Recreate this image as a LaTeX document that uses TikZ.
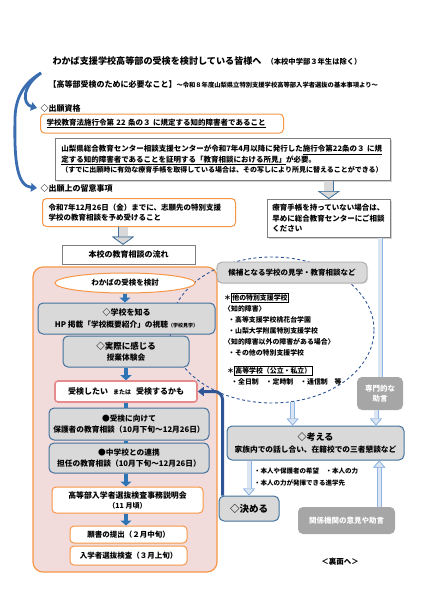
\documentclass[tikz,border=0pt]{standalone}
\usepackage{fontspec}
\setmainfont{Noto Sans CJK JP}
\usetikzlibrary{shapes.geometric,arrows.meta,shadows}

\definecolor{orangeline}{HTML}{F79646}
\definecolor{pinkpanel}{HTML}{F2DCDB}
\definecolor{boxgray}{HTML}{D9D9D9}
\definecolor{boxblue}{HTML}{41719C}
\definecolor{solidgray}{HTML}{A6A6A6}
\definecolor{linegray}{HTML}{7F7F7F}
\definecolor{flowblue}{HTML}{2E75B6}
\definecolor{navy}{HTML}{2F5597}
\definecolor{curveblue}{HTML}{3A6DB0}
\definecolor{lightedge}{HTML}{8EB4E3}
\definecolor{lightfill}{HTML}{DCE6F2}
\definecolor{wantred}{HTML}{E58A8D}

\setlength{\fboxsep}{0.8pt}
\setlength{\fboxrule}{0.5pt}

\tikzset{
	bodytext/.style={font=\fontsize{7.5}{10.5}\selectfont\bfseries},
	listtext/.style={font=\fontsize{6.9}{11}\selectfont\bfseries},
	orangebox/.style={draw=orangeline, line width=1pt, fill=white, rounded corners=4pt, bodytext},
	notebox/.style={draw=linegray, line width=0.6pt, fill=white, bodytext, drop shadow={shadow xshift=1.2pt, shadow yshift=-1.2pt, fill=black!35}},
	stagebox/.style={draw=boxblue, line width=1pt, fill=boxgray, rounded corners=5pt, align=center, font=\fontsize{7.7}{11.5}\selectfont\bfseries},
	darkbox/.style={fill=solidgray, text=white, rounded corners=5pt, align=center, font=\fontsize{7.5}{10.5}\selectfont\bfseries},
	flowarrow/.style={draw=flowblue, line width=4pt, -{Triangle[length=5pt, width=11pt]}},
	flowbar/.style={draw=flowblue, line width=4pt},
	lightline/.style={draw=lightfill, line width=3.4pt, preaction={draw=lightedge, line width=5pt}},
	lightarrow/.style={lightline, -{Triangle[length=7pt, width=12pt, color=lightedge, fill=lightfill, line width=0.7pt]}},
	grayblock/.style={draw=boxgray, line width=9pt, preaction={draw=boxblue, line width=10.4pt}, -{Triangle[length=8pt, width=22pt, color=boxblue, fill=boxgray, line width=0.7pt]}},
	bigcurve/.style={draw=curveblue, line width=2.8pt, -{Triangle[length=6pt, width=8.5pt]}}
}

\begin{document}
\begin{tikzpicture}[x=1pt, y=-1pt]
	\useasboundingbox (0,0) rectangle (424,600);
	% title and heading lines
	\node[anchor=west, font=\fontsize{9.1}{11}\selectfont\bfseries] (title) at (49,61) {わかば支援学校高等部の受検を検討している皆様へ\hspace{5pt}{\fontsize{7.3}{9}\selectfont（本校中学部３年生は除く）}};
	\node[anchor=west, bodytext] (need) at (45,84) {{\fontsize{8}{10}\selectfont【高等部受検のために必要なこと】}{\fontsize{6.3}{8}\selectfont～令和８年度山梨県立特別支援学校高等部入学者選抜の基本事項より～}};
	\node[anchor=west, font=\fontsize{8}{10}\selectfont\bfseries] (head1) at (37,108) {◇出願資格};
	\node[anchor=west, font=\fontsize{8}{10}\selectfont\bfseries] (head2) at (37,188) {◇出願上の留意事項};
	\coordinate (curl) at (41,73);
	\draw[bigcurve] (curl) .. controls (22,86) and (22,104) .. (head1.west);
	\draw[bigcurve] (curl) .. controls (22,84) and (15,100) .. (15,120) .. controls (14,165) and (18,186) .. (head2.west);

	% qualification boxes
	\node[orangebox, anchor=west, minimum height=19pt, text width=231pt, inner xsep=6pt, align=left] (qual) at (40,123.5) {\underline{学校教育法施行令第 22 条の３ に規定する知的障害者であること}};
	\node[notebox, anchor=north west, minimum height=42pt, text width=323pt, inner xsep=6pt, align=left] (center) at (55,138) {山梨県総合教育センター相談支援センターが令和7年4月以降に発行した\underline{施行令第22条の３ に規}\\\underline{定する知的障害者であることを証明する「教育相談における所見」}が必要。\\{\fontsize{7}{10.5}\selectfont（すでに出願時に有効な療育手帳を取得している場合は、その写しにより所見に替えることができる）}};
	\node[orangebox, anchor=north west, minimum height=28pt, text width=181pt, inner xsep=6pt, align=left] (deadline) at (42,198) {令和7年12月26日（金）までに、志願先の特別支援\\学校の教育相談を予め受けること};
	\node[notebox, anchor=north west, minimum height=38pt, text width=113pt, inner xsep=5pt, align=left] (ryoiku) at (267,199) {療育手帳を持っていない場合は、\\早めに総合教育センターにご相談\\ください};
	\node[notebox, minimum width=133pt, minimum height=19pt, font=\fontsize{8}{10}\selectfont\bfseries] (flow) at (128.5,254.5) {本校の教育相談の流れ};
	\draw[grayblock] (center.south -| ryoiku.north) -- (ryoiku.north);
	\draw[grayblock] (deadline.south -| 123,0) -- (flow.north -| 123,0);

	% flow panel
	\node[draw=orangeline, line width=1.2pt, fill=pinkpanel, rounded corners=10pt, minimum width=184pt, minimum height=305pt] (panel) at (125,419.5) {};
	\node[ellipse, draw=navy, line width=0.9pt, dash pattern=on 3pt off 2.5pt, minimum width=204pt, minimum height=146pt] (visit) at (272,330) {};
	\node[ellipse, draw=orangeline, line width=1pt, fill=white, minimum width=140pt, minimum height=20pt, inner sep=0pt, bodytext] (wakaba) at (125,283) {わかばの受検を検討};
	\node[stagebox, minimum width=177pt, minimum height=31pt, inner sep=1pt] (know) at (126.5,318.5) {{\fontsize{8}{10}\selectfont ◇学校を知る}\\HP 掲載「学校概要紹介」の視聴{\fontsize{5}{6}\selectfont（学校見学）}};
	\node[stagebox, minimum width=126pt, minimum height=31pt, inner sep=1pt] (feel) at (126,351.5) {{\fontsize{8.5}{10}\selectfont ◇実際に感じる}\\授業体験会};
	\node[draw=wantred, line width=1.6pt, fill=white, rounded corners=3pt, minimum width=142pt, minimum height=21pt, font=\fontsize{8}{10}\selectfont\bfseries] (want) at (126,391.5) {受検したい\hspace{5pt}{\fontsize{6}{8}\selectfont または}\hspace{5pt}受検するかも};
	\node[stagebox, minimum width=160pt, minimum height=32pt, inner sep=1pt] (toward) at (129,424) {●受検に向けて\\保護者の教育相談（10月下旬～12月26日）};
	\node[stagebox, minimum width=160pt, minimum height=30pt, inner sep=1pt] (renkei) at (129,458) {●中学校との連携\\担任の教育相談（10月下旬～12月26日）};
	\node[orangebox, minimum width=151pt, minimum height=26pt, align=center, font=\fontsize{7.9}{10}\selectfont\bfseries] (setsumei) at (127.5,500) {高等部入学者選抜検査事務説明会\\{\fontsize{7}{9}\selectfont（11 月頃）}};
	\node[orangebox, minimum width=117pt, minimum height=17pt] (gansho) at (128.5,534.5) {願書の提出（２月中旬）};
	\node[orangebox, minimum width=117pt, minimum height=19pt] (senbatsu) at (128.5,555.5) {入学者選抜検査（３月上旬）};
	\draw[flowarrow] (wakaba.south) -- (wakaba.south |- know.north);
	\draw[flowarrow] (feel.south) -- (feel.south |- want.north);
	\draw[flowbar] (want.south) -- (want.south |- toward.north);
	\draw[flowbar] (want.south |- toward.south) -- (want.south |- renkei.north);
	\draw[flowarrow] (want.south |- renkei.south) -- (want.south |- setsumei.north);
	\draw[flowarrow] (want.south |- setsumei.south) -- (want.south |- gansho.north);

	% visits and decision
	\node[draw=solidgray, line width=0.8pt, fill=boxgray, rounded corners=5pt, minimum width=150pt, minimum height=21pt, bodytext, drop shadow={shadow xshift=1pt, shadow yshift=-1pt, fill=black!25}] (candidate) at (292,272.5) {候補となる学校の見学・教育相談など};
	\node[anchor=north west, align=left, inner sep=0pt, listtext] (others) at (224,293) {＊\fbox{他の特別支援学校}\\〈知的障害〉\\\hspace*{4pt}・高等支援学校桃花台学園\\\hspace*{4pt}・山梨大学附属特別支援学校\\〈知的障害以外の障害がある場合〉\\\hspace*{4pt}・その他の特別支援学校};
	\node[anchor=north west, align=left, inner sep=0pt, listtext] (highsch) at (227,366) {＊\fbox{高等学校（公立・私立）}\\\hspace*{4pt}・全日制　・定時制　・通信制　等};
	\node[darkbox, minimum width=46pt, minimum height=33pt, inner sep=1pt] (senmon) at (380,393.5) {専門的な\\助言};
	\node[stagebox, minimum width=177pt, minimum height=34pt, inner sep=1pt] (think) at (315.5,443) {{\fontsize{9}{11}\selectfont ◇考える}\\家族内での話し合い、在籍校での三者懇談など};
	\node[anchor=west, align=left, inner sep=0pt, font=\fontsize{6.5}{12}\selectfont\bfseries] (wish) at (254,477) {・本人や保護者の希望　・本人の力\\・本人の力が発揮できる進学先};
	\node[stagebox, minimum width=60pt, minimum height=25pt, font=\fontsize{9.5}{11}\selectfont\bfseries] (decide) at (249,508.5) {◇決める};
	\node[darkbox, minimum width=97pt, minimum height=27pt] (kankei) at (346.5,520.5) {関係機関の意見や助言};
	\node[bodytext] (ura) at (340,562) {＜裏面へ＞};
	\draw[lightline] (ryoiku.south -| senmon.north) -- (senmon.north);
	\draw[lightarrow] ([xshift=-4pt]senmon.south) -- ([xshift=-4pt]senmon.south |- think.north);
	\draw[lightarrow] (visit.-74) -- (visit.-74 |- think.north);
	\draw[lightarrow] (decide.north |- think.south) -- (decide.north);
	\draw[lightarrow] ([xshift=-16pt]kankei.north east) -- ([xshift=-16pt]kankei.north east |- think.south);
	\draw[navy, line width=3pt, rounded corners=8pt, -{Triangle[length=6pt, width=9pt]}] ([xshift=4pt]decide.north west) |- (want.east);
\end{tikzpicture}
\end{document}
